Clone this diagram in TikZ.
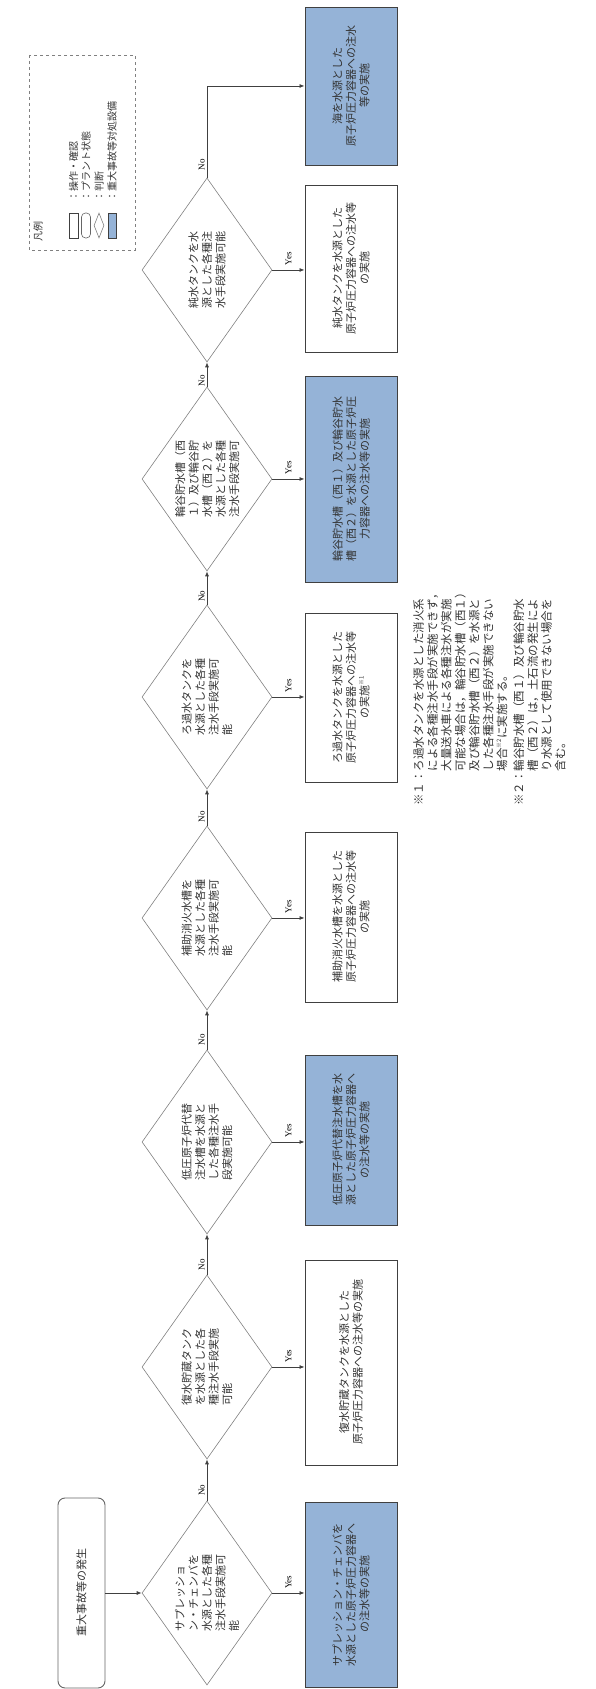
\documentclass[tikz,border=0pt]{standalone}
\usepackage{fontspec}
\setmainfont{Noto Sans CJK JP}
\newfontfamily\latinfont{Liberation Serif}
\usepackage{tikz}
\usetikzlibrary{shapes.geometric,arrows.meta,positioning}
\definecolor{sablue}{RGB}{149,179,215}
\definecolor{edgegray}{RGB}{64,64,64}
\definecolor{diagray}{RGB}{128,128,128}
\newcommand{\noteref}[1]{\raisebox{0.45em}{\fontsize{6}{6}\selectfont ※#1}}

\begin{document}
\begin{tikzpicture}[
    x=1pt, y=1pt,
    font=\fontsize{11}{13.5}\selectfont,
    opbox/.style={rectangle, draw=edgegray, line width=0.9pt, rotate=90, minimum height=92pt, align=center, text=black!80},
    bluebox/.style={opbox, fill=sablue},
    judge/.style={diamond, draw=diagray, line width=0.6pt, rotate=90, aspect=1.4, inner sep=0pt, minimum width=184pt, minimum height=130pt, align=left, text=black!80},
    state/.style={rectangle, rounded corners=7pt, draw=edgegray!80, line width=0.9pt, rotate=90, align=center, text=black!80},
    arrow/.style={-{Latex[length=5pt,width=4pt]}, line width=0.8pt, draw=edgegray},
    nolbl/.style={pos=0.25, anchor=south, rotate=90, inner sep=2pt, font=\latinfont\fontsize{9}{9}\selectfont},
    yeslbl/.style={midway, anchor=west, rotate=90, inner sep=4pt, font=\latinfont\fontsize{9}{9}\selectfont},
    note/.style={rotate=90, inner sep=0pt, anchor=north west, font=\fontsize{11.5}{13.8}\selectfont, text=black!80},
    lgtext/.style={rotate=90, anchor=west, inner sep=0pt, font=\fontsize{10}{10}\selectfont, text=black!80}
]
\useasboundingbox (0,0) rectangle (595,1689);

% start
\node[state, minimum width=190pt, minimum height=47pt] (start) at (81.5,96) {重大事故等の発生};

% judgements
\node[judge] (d1) at (207,96) {サプレッショ\\ン・チェンバを\\水源とした各種\\注水手段実施可\\能};
\node[judge] (d2) at (207,322) {復水貯蔵タンク\\を水源とした各\\種注水手段実施\\可能};
\node[judge] (d3) at (207,547) {低圧原子炉代替\\注水槽を水源と\\した各種注水手\\段実施可能};
\node[judge] (d4) at (207,771) {補助消火水槽を\\水源とした各種\\注水手段実施可\\能};
\node[judge] (d5) at (207,992) {ろ過水タンクを\\水源とした各種\\注水手段実施可\\能};
\node[judge] (d6) at (207,1210) {輪谷貯水槽（西\\１）及び輪谷貯\\水槽（西２）を\\水源とした各種\\注水手段実施可};
\node[judge] (d7) at (207,1419) {純水タンクを水\\源とした各種注\\水手段実施可能};

% operations
\node[bluebox, minimum width=185pt] (b1) at (351,94.5) {サプレッション・チェンバを\\水源とした原子炉圧力容器へ\\の注水等の実施};
\node[opbox, minimum width=205pt] (b2) at (351,326.5) {復水貯蔵タンクを水源とした\\原子炉圧力容器への注水等の実施};
\node[bluebox, minimum width=170pt] (b3) at (351,549) {低圧原子炉代替注水槽を水\\源とした原子炉圧力容器へ\\の注水等の実施};
\node[opbox, minimum width=170pt] (b4) at (351,772) {補助消火水槽を水源とした\\原子炉圧力容器への注水等\\の実施};
\node[opbox, minimum width=169pt] (b5) at (351,991.5) {ろ過水タンクを水源とした\\原子炉圧力容器への注水等\\の実施\noteref{1}};
\node[bluebox, minimum width=206pt] (b6) at (351,1210) {輪谷貯水槽（西１）及び輪谷貯水\\槽（西２）を水源とした原子炉圧\\力容器への注水等の実施};
\node[opbox, minimum width=167pt] (b7) at (351,1420.5) {純水タンクを水源とした\\原子炉圧力容器への注水等\\の実施};
\node[bluebox, minimum width=158pt] (b8) at (351,1603) {海を水源とした\\原子炉圧力容器への注水\\等の実施};

% notes
\node[note] (note1) at (413,883) {\begin{tabular}{@{}l@{}l@{}}
※１：&ろ過水タンクを水源とした消火系\\
&による各種注水手段が実施できず，\\
&大量送水車による各種注水が実施\\
&可能な場合は，輪谷貯水槽（西１）\\
&及び輪谷貯水槽（西２）を水源と\\
&した各種注水手段が実施できない\\
&場合\noteref{2}に実施する。
\end{tabular}};
\node[note] (note2) at (513,883) {\begin{tabular}{@{}l@{}l@{}}
※２：&輪谷貯水槽（西１）及び輪谷貯水\\
&槽（西２）は，土石流の発生によ\\
&り水源として使用できない場合を\\
&含む。
\end{tabular}};

% legend
\node[rectangle, draw=diagray, dashed, line width=0.6pt, rotate=90, minimum width=195pt, minimum height=106pt] (legend) at (82,1536.5) {};
\node[lgtext] (lgtitle) at (38,1447) {凡例};
\node[opbox, minimum width=25pt, minimum height=9pt, inner sep=0pt, line width=0.6pt] (lgop) at (73.5,1463.5) {};
\node[state, minimum width=25pt, minimum height=9pt, inner sep=0pt, rounded corners=4pt, line width=0.6pt] (lgstate) at (86,1463.5) {};
\node[judge, minimum width=25pt, minimum height=10pt] (lgjudge) at (99,1463.5) {};
\node[bluebox, minimum width=25pt, minimum height=8pt, inner sep=0pt, line width=0.6pt] (lgsa) at (112,1463.5) {};
\node[lgtext] (lgt1) at (73.5,1487) {：操作・確認};
\node[lgtext] (lgt2) at (86,1487) {：プラント状態};
\node[lgtext] (lgt3) at (99,1487) {：判断};
\node[lgtext] (lgt4) at (112,1487) {：重大事故等対処設備};

% connectors
\draw[arrow] (start) -- (d1);
\draw[arrow] (d1) -- node[nolbl] {No} (d2);
\draw[arrow] (d2) -- node[nolbl] {No} (d3);
\draw[arrow] (d3) -- node[nolbl] {No} (d4);
\draw[arrow] (d4) -- node[nolbl] {No} (d5);
\draw[arrow] (d5) -- node[nolbl] {No} (d6);
\draw[arrow] (d6) -- node[nolbl] {No} (d7);
\draw[arrow] (d7) |- node[nolbl, pos=0.07] {No} (b8.north);
\draw[arrow] (d1) -- node[yeslbl] {Yes} (d1 -| b1.north);
\draw[arrow] (d2) -- node[yeslbl] {Yes} (d2 -| b2.north);
\draw[arrow] (d3) -- node[yeslbl] {Yes} (d3 -| b3.north);
\draw[arrow] (d4) -- node[yeslbl] {Yes} (d4 -| b4.north);
\draw[arrow] (d5) -- node[yeslbl] {Yes} (d5 -| b5.north);
\draw[arrow] (d6) -- node[yeslbl] {Yes} (d6 -| b6.north);
\draw[arrow] (d7) -- node[yeslbl] {Yes} (d7 -| b7.north);
\end{tikzpicture}
\end{document}
